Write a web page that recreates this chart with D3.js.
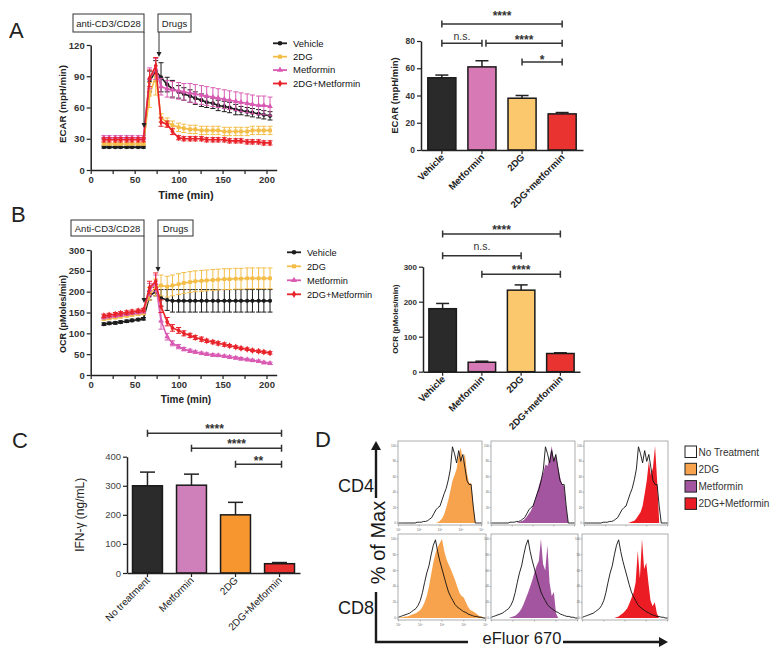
<!DOCTYPE html>
<html><head><meta charset="utf-8">
<script src="https://cdn.jsdelivr.net/npm/d3@7"></script>
<style>body{margin:0;background:#fff}svg{display:block}</style>
</head><body>
<svg id="c" width="776" height="661"></svg>
<script>
// ---------------- DATA ----------------
const times = [15,21,28,34,41,47,54,60,67,74,80,87,93,100,106,113,119,126,132,139,145,152,158,165,171,178,184,191,197,204];
const seriesNames = ["Vehicle","2DG","Metformin","2DG+Metformin"];
const xTicks = [0,25,50,75,100,125,150,175,200];

const ecarVehicle    = [22,22,22,22,22,22,22,22,85,95,89,82,78,75,73,71,69,67,65,64,62,61,60,58,57,56,55,54,53,52];
const ecarVehicleErr = [1,1,1,1,1,1,1,1,10,10,14,7,8,6,6,6,6,6,5,5,5,5,5,5,4,4,4,4,4,4];
const ecar2DG        = [25,25,25,25,25,25,25,25,72,90,50,46,43,41,40,39,39,38,38,38,38,37,37,37,37,37,38,38,38,38];
const ecar2DGErr     = [1,1,1,1,1,1,1,1,12,18,4,4,4,4,4,4,4,4,4,4,4,4,4,4,4,4,4,4,4,4];
const ecarMet        = [31,31,31,31,31,31,31,31,88,97,80,78,77,76,75,74,73,72,71,70,69,68,67,66,65,64,63,62,62,61];
const ecarMetErr     = [2,2,2,2,2,2,2,2,10,10,8,8,8,8,8,9,9,9,9,9,9,9,9,9,9,9,9,9,9,9];
const ecarCombo      = [29,29,29,29,29,29,29,29,88,100,46,44,37,31,30,30,30,30,29,29,29,29,28,28,28,27,27,27,26,26];
const ecarComboErr   = [2,2,2,2,2,2,2,2,8,8,4,3,3,2,2,2,2,2,2,2,2,2,2,2,2,2,2,2,2,2];
const ecarYTicks = [0,30,60,90,120];

const ocrVehicle    = [122,124,125,127,129,131,133,135,190,200,185,180,178,178,178,178,178,178,178,178,178,178,178,178,178,178,178,178,178,178];
const ocrVehicleErr = [3,3,3,3,3,3,3,3,10,10,20,25,27,27,27,27,27,27,27,27,27,27,27,27,27,27,27,27,27,27];
const ocr2DG        = [134,136,138,140,142,144,146,148,195,210,215,212,215,218,221,223,225,226,227,228,229,230,230,231,231,232,232,232,232,232];
const ocr2DGErr     = [3,3,3,3,3,3,3,3,15,20,25,25,25,25,25,25,25,25,25,25,25,25,25,25,25,25,25,25,25,25];
const ocrMet        = [138,140,142,144,146,148,150,152,205,220,130,92,76,68,62,58,55,52,50,48,47,45,43,41,39,37,35,33,30,28];
const ocrMetErr     = [3,3,3,3,3,3,3,3,15,20,20,8,6,5,4,4,3,3,3,3,3,3,3,3,3,3,3,3,3,3];
const ocrCombo      = [142,144,146,148,150,152,154,156,210,225,165,128,113,107,100,95,90,86,82,79,76,73,70,67,64,62,59,57,55,53];
const ocrComboErr   = [4,4,4,4,4,4,4,4,15,20,15,10,8,7,6,5,5,5,4,4,4,4,3,3,3,3,3,3,3,3];
const ocrYTicks = [0,50,100,150,200,250,300];

const barCatsAB   = ["Vehicle","Metformin","2DG","2DG+metformin"];
const ecarBarMean = [53,61,38,26.5];
const ecarBarErr  = [2,4.5,2,1];
const ecarBarTicks = [0,20,40,60,80];
const ocrBarMean  = [180,27,233,52];
const ocrBarErr   = [15,3,15,2];
const ocrBarTicks = [0,100,200,300];

const ifnCats = ["No treatment","Metformin","2DG","2DG+Metformin"];
const ifnMean = [300,302,200,32];
const ifnErr  = [47,38,43,4];
const ifnTicks = [0,100,200,300,400];

// histogram bins: log10 fluorescence 0.0 ... 4.0 step 0.1
const histBins = [0,0.1,0.2,0.3,0.4,0.5,0.6,0.7,0.8,0.9,1,1.1,1.2,1.3,1.4,1.5,1.6,1.7,1.8,1.9,2,2.1,2.2,2.3,2.4,2.5,2.6,2.7,2.8,2.9,3,3.1,3.2,3.3,3.4,3.5,3.6,3.7,3.8,3.9,4];
const ctrlCD4 = [0,0,0,0,0,0,0,0,0,1,1,1,2,2,3,5,7,12,17,20,22,30,38,45,56,70,99,90,78,94,80,89,72,55,50,50,22,0,0,0,0];
const dg2CD4  = [0,0,0,0,0,0,0,0,0,0,0,0,0,0,0,0,0,0,0,1,3,6,11,20,30,42,55,62,70,88,98,80,90,65,52,52,25,0,0,0,0];
const metCD4  = [0,0,0,0,0,0,0,0,0,0,0,0,0,1,2,3,5,8,12,16,22,30,40,50,58,66,76,74,84,100,82,88,74,60,50,48,20,0,0,0,0];
const comboCD4= [0,0,0,0,0,0,0,0,0,0,0,0,0,0,0,0,0,0,0,0,0,0,1,2,3,6,10,14,22,38,55,80,62,72,100,55,0,0,0,0,0];
const ctrlCD8 = [1,2,3,4,5,6,8,10,12,16,22,32,45,57,66,80,92,99,84,72,62,52,42,33,27,22,17,14,12,10,8,7,5,4,3,2,2,1,1,0,0];
const dg2CD8  = [0,1,1,2,2,3,4,5,6,8,10,14,20,28,40,55,70,82,90,95,100,85,75,68,62,55,48,40,32,28,26,20,14,10,9,7,5,3,2,1,0];
const metCD8  = [0,0,0,0,0,0,0,0,0,1,2,3,5,8,12,18,25,32,40,48,58,66,72,100,68,60,92,45,28,33,6,0,0,0,0,0,0,0,0,0,0];
const comboCD8= [0,0,0,0,0,0,0,0,0,0,0,0,0,0,0,0,1,2,4,6,9,12,18,25,32,45,85,50,100,62,70,45,22,15,20,6,0,0,0,0,0];
const histYTicks = [0,20,40,60,80,100];
const histXTicks = [0,1,2,3,4];
const legendD = ["No Treatment","2DG","Metformin","2DG+Metformin"];

// ---------------- STYLE ----------------
const FONT = '"Liberation Sans", Arial, Helvetica, sans-serif';
const lineCol = {Vehicle:"#1c1c1c","2DG":"#f3bd48",Metformin:"#d95ab3","2DG+Metformin":"#e8232a"};
const shapes = {Vehicle:d3.symbolCircle,"2DG":d3.symbolSquare,Metformin:d3.symbolTriangle,"2DG+Metformin":d3.symbolDiamond};
const barColsAB = ["#2a2a2a","#d779b5","#fcc86e","#e83331"];
const barColsC  = ["#2b2b2b","#cf7fb9","#f7962f","#e8302f"];
const histCols = ["#ffffff","#f7a24c","#a3559f","#ec1c24"];

const svg = d3.select("#c").attr("font-family", FONT);

function txt(g, x, y, s, o = {}) {
  const t = g.append("text").attr("x", x).attr("y", y).text(s)
    .attr("font-size", o.size || 10).attr("font-weight", o.weight || "normal")
    .attr("fill", o.fill || "#222").attr("text-anchor", o.anchor || "start");
  if (o.rotate) t.attr("transform", `rotate(${o.rotate},${x},${y})`);
  return t;
}
function styleAxis(sel, size, weight, color, sw) {
  sel.attr("font-family", FONT).attr("font-size", size);
  sel.select(".domain").attr("stroke", "#222").attr("stroke-width", sw || 1.5);
  sel.selectAll(".tick line").attr("stroke", "#222").attr("stroke-width", 1.2);
  sel.selectAll(".tick text").attr("font-weight", weight).attr("fill", color);
}

// ---------------- LINE CHARTS ----------------
function lineChart(cfg) {
  const g = svg.append("g");
  const x = d3.scaleLinear().domain([0, 211.6]).range([cfg.xLeft, cfg.xLeft + 186]);
  const y = d3.scaleLinear().domain(cfg.yDomain).range(cfg.yRange);
  g.append("g").attr("transform", `translate(0,${cfg.yRange[0]})`)
    .call(d3.axisBottom(x).tickValues(xTicks).tickFormat(d => d % 50 === 0 ? d : "").tickSize(4).tickPadding(2).tickSizeOuter(0))
    .call(s => styleAxis(s, 9.5, "bold", "#333"));
  g.append("g").attr("transform", `translate(${cfg.xLeft},0)`)
    .call(d3.axisLeft(y).tickValues(cfg.yTicks).tickSize(4).tickPadding(2).tickSizeOuter(0))
    .call(s => styleAxis(s, 9.5, "bold", "#333"));
  txt(g, 186, cfg.xLabelY, "Time (min)", {size: cfg.xLabelSize, weight: "bold", anchor: "middle"});
  txt(g, 66, cfg.yLabelY, cfg.yLabel, {size: cfg.yLabelSize, weight: "bold", anchor: "middle", rotate: -90});

  cfg.series.forEach(s => {
    const col = lineCol[s.name];
    const sg = g.append("g");
    // error bars
    s.vals.forEach((v, i) => {
      const e = s.errs[i], xx = x(times[i]);
      sg.append("line").attr("x1", xx).attr("x2", xx).attr("y1", y(v - e)).attr("y2", y(v + e)).attr("stroke", col).attr("stroke-width", 1);
      [v - e, v + e].forEach(c => sg.append("line").attr("x1", xx - 2.5).attr("x2", xx + 2.5).attr("y1", y(c)).attr("y2", y(c)).attr("stroke", col).attr("stroke-width", 1));
    });
    sg.append("path").datum(s.vals)
      .attr("d", d3.line().x((d, i) => x(times[i])).y(d => y(d)))
      .attr("fill", "none").attr("stroke", col).attr("stroke-width", 1.6);
    s.vals.forEach((v, i) => {
      sg.append("path").attr("d", d3.symbol().type(shapes[s.name]).size(14)())
        .attr("transform", `translate(${x(times[i])},${y(v)})`).attr("fill", col);
    });
  });
  // boxes and arrows
  cfg.boxes.forEach(b => {
    g.append("rect").attr("x", b.x).attr("y", b.y).attr("width", b.w).attr("height", b.h)
      .attr("fill", "#fff").attr("stroke", "#333").attr("stroke-width", 1);
    txt(g, b.x + b.w / 2, b.y + b.h / 2 + 3.5, b.text, {size: 9.5, anchor: "middle"});
  });
  cfg.arrows.forEach(a => {
    g.append("line").attr("x1", a.x).attr("x2", a.x).attr("y1", a.y1).attr("y2", a.y2 - 4).attr("stroke", "#333").attr("stroke-width", 1);
    g.append("path").attr("d", `M${a.x - 2.5},${a.y2 - 5}L${a.x + 2.5},${a.y2 - 5}L${a.x},${a.y2}Z`).attr("fill", "#222");
  });
  // legend
  cfg.series.forEach((s, i) => {
    const yy = cfg.legY + i * cfg.legDy, col = lineCol[s.name];
    g.append("line").attr("x1", cfg.legX).attr("x2", cfg.legX + 14).attr("y1", yy).attr("y2", yy).attr("stroke", col).attr("stroke-width", 1.8);
    g.append("path").attr("d", d3.symbol().type(shapes[s.name]).size(16)()).attr("transform", `translate(${cfg.legX + 7},${yy})`).attr("fill", col);
    txt(g, cfg.legX + 20, yy + 3.3, s.name, {size: cfg.legSize, fill: "#111"});
  });
}

lineChart({
  xLeft: 90.7, yDomain: [0, 120], yRange: [170, 45], yTicks: ecarYTicks,
  xLabelY: 199, xLabelSize: 11, yLabel: "ECAR (mpH/min)", yLabelY: 104, yLabelSize: 9.7,
  series: [
    {name: "Vehicle", vals: ecarVehicle, errs: ecarVehicleErr},
    {name: "2DG", vals: ecar2DG, errs: ecar2DGErr},
    {name: "Metformin", vals: ecarMet, errs: ecarMetErr},
    {name: "2DG+Metformin", vals: ecarCombo, errs: ecarComboErr}],
  boxes: [{text: "anti-CD3/CD28", x: 73, y: 14, w: 71, h: 18}, {text: "Drugs", x: 158, y: 14, w: 33, h: 18}],
  arrows: [{x: 144, y1: 32, y2: 128}, {x: 159, y1: 32, y2: 57}],
  legX: 273, legY: 43.3, legDy: 13.4, legSize: 9.5
});
lineChart({
  xLeft: 90.7, yDomain: [0, 300], yRange: [375, 250], yTicks: ocrYTicks,
  xLabelY: 403, xLabelSize: 10, yLabel: "OCR (pMoles/min)", yLabelY: 314, yLabelSize: 9,
  series: [
    {name: "Vehicle", vals: ocrVehicle, errs: ocrVehicleErr},
    {name: "2DG", vals: ocr2DG, errs: ocr2DGErr},
    {name: "Metformin", vals: ocrMet, errs: ocrMetErr},
    {name: "2DG+Metformin", vals: ocrCombo, errs: ocrComboErr}],
  boxes: [{text: "Anti-CD3/CD28", x: 71, y: 220, w: 73, h: 16}, {text: "Drugs", x: 158, y: 220, w: 35, h: 16}],
  arrows: [{x: 144, y1: 236, y2: 303}, {x: 158, y1: 236, y2: 272}],
  legX: 287, legY: 252.3, legDy: 14, legSize: 9.2
});

// ---------------- BAR CHARTS ----------------
function barChart(cfg) {
  const g = svg.append("g");
  const x = d3.scaleBand().domain(cfg.cats).range(cfg.xRange).paddingInner(cfg.pi).paddingOuter(cfg.po);
  const y = d3.scaleLinear().domain(cfg.yDomain).range(cfg.yRange);
  cfg.cats.forEach((c, i) => {
    const cx = x(c) + x.bandwidth() / 2, top = y(cfg.means[i] + cfg.errs[i]);
    g.append("line").attr("x1", cx).attr("x2", cx).attr("y1", y(cfg.means[i])).attr("y2", top).attr("stroke", "#222").attr("stroke-width", 1.5);
    g.append("line").attr("x1", cx - cfg.cap / 2).attr("x2", cx + cfg.cap / 2).attr("y1", top).attr("y2", top).attr("stroke", "#222").attr("stroke-width", 1.5);
    g.append("rect").attr("x", x(c)).attr("y", y(cfg.means[i])).attr("width", x.bandwidth())
      .attr("height", y(0) - y(cfg.means[i])).attr("fill", cfg.colors[i]).attr("stroke", "#1a1a1a").attr("stroke-width", 1.5);
  });
  g.append("g").attr("transform", `translate(0,${cfg.yRange[0]})`)
    .call(d3.axisBottom(x).tickSize(4).tickSizeOuter(0).tickFormat(""))
    .call(s => styleAxis(s, 9, "normal", "#222"));
  g.append("g").attr("transform", `translate(${cfg.xRange[0]},0)`)
    .call(d3.axisLeft(y).tickValues(cfg.yTicks).tickSize(4).tickPadding(2).tickSizeOuter(0))
    .call(s => styleAxis(s, cfg.tickSize, cfg.tickWeight, cfg.tickColor));
  cfg.cats.forEach(c => {
    const cx = x(c) + x.bandwidth() / 2 + 3, yy = cfg.yRange[0] + cfg.labDy;
    txt(g, cx, yy, c, {size: cfg.labSize, weight: cfg.labWeight, anchor: "end", rotate: -45, fill: "#222"});
  });
  txt(g, cfg.yLabX, (cfg.yRange[0] + cfg.yRange[1]) / 2, cfg.yLabel, {size: cfg.yLabSize, weight: cfg.yLabWeight, anchor: "middle", rotate: -90});
  cfg.brackets.forEach(b => {
    const xa = x(cfg.cats[b.a]) + x.bandwidth() / 2 + (b.dxa || 0);
    const xb = x(cfg.cats[b.b]) + x.bandwidth() / 2 + (b.dxb || 0);
    g.append("path").attr("d", `M${xa},${b.y - 3.5}V${b.y + 3.5}M${xa},${b.y}H${xb}M${xb},${b.y - 3.5}V${b.y + 3.5}`)
      .attr("fill", "none").attr("stroke", "#333").attr("stroke-width", 1.5);
    const ns = b.t === "n.s.";
    txt(g, (xa + xb) / 2, ns ? b.c + 2.8 : b.c + 7, b.t, {size: ns ? 10.5 : 12, weight: ns ? "normal" : "bold", anchor: "middle", fill: "#333"});
  });
}

barChart({
  cats: barCatsAB, means: ecarBarMean, errs: ecarBarErr, colors: barColsAB,
  xRange: [421, 583], pi: 0.3, po: 0.17, yDomain: [0, 80], yRange: [150, 41], yTicks: ecarBarTicks,
  cap: 13, tickSize: 8.5, tickWeight: "bold", tickColor: "#333",
  labDy: 8, labSize: 9.5, labWeight: "bold",
  yLabX: 397.5, yLabel: "ECAR (mpH/min)", yLabSize: 9.5, yLabWeight: "bold",
  brackets: [
    {a: 0, b: 3, y: 24, t: "****", c: 13.3},
    {a: 0, b: 1, y: 43.3, t: "n.s.", c: 36.7},
    {a: 1, b: 3, y: 43.3, t: "****", c: 36.5, dxa: 4},
    {a: 2, b: 3, y: 62, t: "*", c: 56.5}]
});
barChart({
  cats: barCatsAB, means: ocrBarMean, errs: ocrBarErr, colors: barColsAB,
  xRange: [423, 580], pi: 0.3, po: 0.15, yDomain: [0, 300], yRange: [371.7, 266.7], yTicks: ocrBarTicks,
  cap: 13, tickSize: 8, tickWeight: "bold", tickColor: "#333",
  labDy: 8, labSize: 9.5, labWeight: "bold",
  yLabX: 398, yLabel: "OCR (pMoles/min)", yLabSize: 8, yLabWeight: "bold",
  brackets: [
    {a: 0, b: 3, y: 234, t: "****", c: 226.7},
    {a: 0, b: 2, y: 255.7, t: "n.s.", c: 246.7},
    {a: 1, b: 3, y: 274.3, t: "****", c: 266.7}]
});
barChart({
  cats: ifnCats, means: ifnMean, errs: ifnErr, colors: barColsC,
  xRange: [127, 300], pi: 0.32, po: 0.125, yDomain: [0, 400], yRange: [573, 456.7], yTicks: ifnTicks,
  cap: 15, tickSize: 9.5, tickWeight: "normal", tickColor: "#444",
  labDy: 8, labSize: 10, labWeight: "normal",
  yLabX: 84, yLabel: "IFN-\u03b3 (ng/mL)", yLabSize: 12, yLabWeight: "normal",
  brackets: [
    {a: 0, b: 3, y: 433.3, t: "****", c: 425.7, dxb: 2},
    {a: 1, b: 3, y: 448.3, t: "****", c: 441, dxb: 2},
    {a: 2, b: 3, y: 464.3, t: "**", c: 457.7, dxb: 2}]
});

// ---------------- PANEL LETTERS ----------------
txt(svg, 9, 38, "A", {size: 22});
txt(svg, 11, 222, "B", {size: 22});
txt(svg, 12, 448, "C", {size: 22});
txt(svg, 315, 447, "D", {size: 22});

// ---------------- HISTOGRAMS ----------------
function histPanel(x0, x1, y0, y1, fillVals, fillCol, ctrlVals, xLabels) {
  const g = svg.append("g");
  const xs = d3.scaleLinear().domain([0, 4]).range([x0 + 0.5, x1 - 0.5]);
  const ys = d3.scaleLinear().domain([0, 100]).range([y1 - 2, y0 + 5]);
  g.append("rect").attr("x", x0).attr("y", y0).attr("width", x1 - x0).attr("height", y1 - y0)
    .attr("fill", "#fff").attr("stroke", "#9a9a9a").attr("stroke-width", 0.8);
  g.append("path").datum(fillVals)
    .attr("d", d3.area().x((d, i) => xs(histBins[i])).y0(ys(0)).y1(d => ys(d)))
    .attr("fill", fillCol);
  g.append("path").datum(ctrlVals)
    .attr("d", d3.line().x((d, i) => xs(histBins[i])).y(d => ys(d)))
    .attr("fill", "none").attr("stroke", "#111").attr("stroke-width", 0.9);
  histYTicks.forEach(t => {
    g.append("line").attr("x1", x0 - 1.5).attr("x2", x0).attr("y1", ys(t)).attr("y2", ys(t)).attr("stroke", "#777").attr("stroke-width", 0.5);
    txt(g, x0 - 2, ys(t) + 1, t, {size: 3, anchor: "end", fill: "#666"});
  });
  histXTicks.forEach(t => {
    g.append("line").attr("x1", xs(t)).attr("x2", xs(t)).attr("y1", y1).attr("y2", y1 + 1.5).attr("stroke", "#777").attr("stroke-width", 0.5);
    if (xLabels) {
      const tt = txt(g, xs(t), y1 + 6, "10", {size: 3, anchor: "middle", fill: "#666"});
      tt.append("tspan").attr("dy", -1.2).attr("font-size", 2.2).text(t);
    }
  });
}
const row1 = [[398, 482], [491, 575], [584, 668]];
const row2 = [[398, 486], [491, 578], [582, 668]];
const cd4Fills = [dg2CD4, metCD4, comboCD4];
const cd8Fills = [dg2CD8, metCD8, comboCD8];
row1.forEach((p, i) => histPanel(p[0], p[1], 441, 525, cd4Fills[i], histCols[i + 1], ctrlCD4, i === 0));
row2.forEach((p, i) => histPanel(p[0], p[1], 534, 620, cd8Fills[i], histCols[i + 1], ctrlCD8, i === 0));

// axis arrows & labels for D
const dg = svg.append("g");
dg.append("line").attr("x1", 376).attr("x2", 376).attr("y1", 498).attr("y2", 449).attr("stroke", "#1a1a1a").attr("stroke-width", 2.4);
dg.append("path").attr("d", "M371,450L381,450L376,441Z").attr("fill", "#1a1a1a");
dg.append("path").attr("d", "M376,592V642H468").attr("fill", "none").attr("stroke", "#1a1a1a").attr("stroke-width", 2.4);
dg.append("line").attr("x1", 563).attr("x2", 660).attr("y1", 642).attr("y2", 642).attr("stroke", "#1a1a1a").attr("stroke-width", 2.4);
dg.append("path").attr("d", "M659,637L659,647L668,642Z").attr("fill", "#1a1a1a");
txt(dg, 385, 542.5, "% of Max", {size: 20, anchor: "middle", rotate: -90, fill: "#1a1a1a"});
txt(dg, 338, 492, "CD4", {size: 18, fill: "#1a1a1a"});
txt(dg, 338, 614, "CD8", {size: 18, fill: "#1a1a1a"});
txt(dg, 482.5, 644, "eFluor 670", {size: 16.5, fill: "#1a1a1a"});
legendD.forEach((s, i) => {
  const yy = 446 + i * 17.3;
  dg.append("rect").attr("x", 685).attr("y", yy).attr("width", 11.5).attr("height", 11.5)
    .attr("fill", histCols[i]).attr("stroke", "#222").attr("stroke-width", 1);
  txt(dg, 698.5, yy + 9.5, s, {size: 10, fill: "#333"});
});
</script>
</body></html>
